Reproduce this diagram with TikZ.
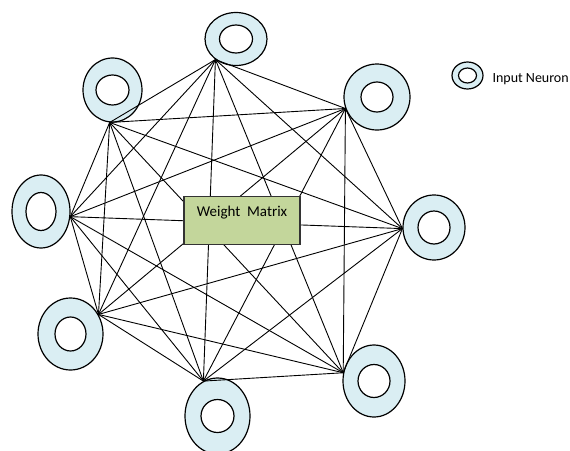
\documentclass[tikz,border=0pt]{standalone}
\usepackage{fontspec}
\setmainfont{Carlito}
\usetikzlibrary{shapes.geometric}
\definecolor{neuronblue}{HTML}{DAEEF3}
\definecolor{matrixgreen}{HTML}{C3D69B}

\begin{document}
\begin{tikzpicture}[x=1pt,y=-1pt,
    neuron/.style n args={4}{ellipse, draw, line width=1.2pt, fill=neuronblue, inner sep=0pt,
        minimum width=#1, minimum height=#2,
        path picture={\draw[line width=1.2pt, fill=white] (path picture bounding box.center) ellipse [x radius=#3, y radius=#4];}},
    link/.style={line width=0.9pt},
    matrixbox/.style={draw=black!80, line width=1.2pt, fill=matrixgreen, minimum width=116pt,
        inner sep=0pt, text height=20pt, text depth=28pt, font=\fontsize{15}{15}\selectfont}]
            \useasboundingbox (0,0) rectangle (570,450);
            % Input neurons round the weight matrix
            \node[neuron={62pt}{53pt}{16.5pt}{14pt}] (n1) at (236,39) {};
            \node[neuron={59pt}{64pt}{16.5pt}{15pt}] (n2) at (112.5,90) {};
            \node[neuron={66pt}{66pt}{16pt}{15pt}] (n3) at (377,97) {};
            \node[neuron={62pt}{65pt}{16pt}{16.5pt}] (n4) at (434,227.5) {};
            \node[neuron={62pt}{72pt}{16pt}{16.5pt}] (n5) at (374,381) {};
            \node[neuron={65pt}{76pt}{16.5pt}{16.5pt}] (n6) at (217.5,416) {};
            \node[neuron={65pt}{72pt}{15.5pt}{17pt}] (n7) at (70.5,334) {};
            \node[neuron={58pt}{73pt}{15pt}{19pt}] (n8) at (41,211.5) {};
            % Points where the links meet each neuron
            \coordinate (p1) at (n1.225);
            \coordinate (p2) at (n2.265);
            \coordinate (p3) at (n3.200);
            \coordinate (p4) at (n4.182);
            \coordinate (p5) at (n5.165);
            \coordinate (p6) at (n6.112);
            \coordinate (p7) at (n7.35);
            \coordinate (p8) at (n8.350);
            % Every neuron linked to every other one
            \foreach \i in {1,...,7} {
                \pgfmathtruncatemacro{\k}{\i+1}
                \foreach \j in {\k,...,8}
                    \draw[link] (p\i) -- (p\j);
            }
            % Weight matrix on top of the links
            \node[matrixbox, anchor=north] (wm) at (242,196) {Weight\ \ Matrix};
            % Legend
            \node[neuron={31pt}{27pt}{9pt}{7.5pt}] (key) at (467.5,75.5) {};
            \node[anchor=base west, font=\fontsize{14}{14}\selectfont] (keytext) at (489,82) {Input Neuron};
        \end{tikzpicture}
\end{document}
